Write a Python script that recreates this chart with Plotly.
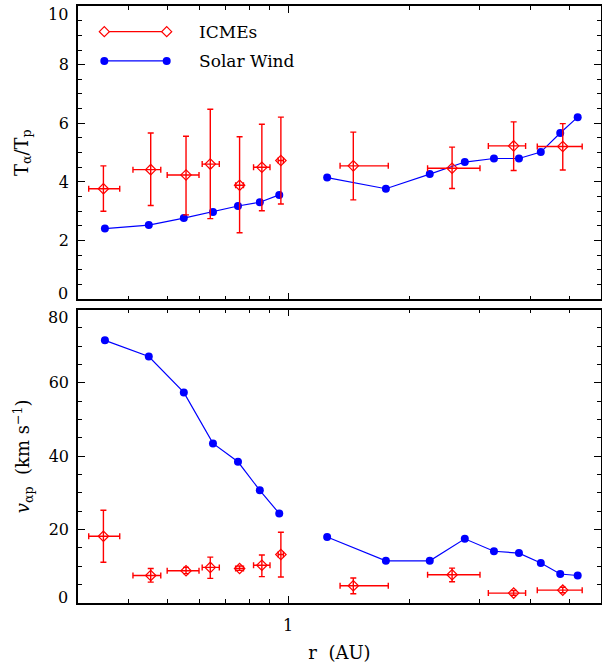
import plotly.graph_objects as go
import math

# ---------------- data ----------------
# Solar wind (bin centres, AU)
sw_r_in = [0.35, 0.45, 0.55, 0.65, 0.75, 0.85, 0.95]
sw_T_in = [2.41, 2.53, 2.77, 2.98, 3.18, 3.31, 3.56]
sw_v_in = [71.6, 67.2, 57.4, 43.5, 38.5, 30.7, 24.4]
sw_r_out = [1.25, 1.75, 2.25, 2.75, 3.25, 3.75, 4.25, 4.75, 5.25]
sw_T_out = [4.15, 3.77, 4.27, 4.68, 4.80, 4.80, 5.02, 5.67, 6.21]
sw_v_out = [18.0, 11.5, 11.5, 17.5, 14.1, 13.6, 10.9, 7.9, 7.5]

# ICMEs
icme_r = [0.347, 0.455, 0.557, 0.640, 0.757, 0.860, 0.959, 1.452, 2.557, 3.638, 4.82]
icme_r_lo = [0.319, 0.411, 0.500, 0.611, 0.740, 0.820, 0.944, 1.346, 2.222, 3.147, 4.165]
icme_r_hi = [0.381, 0.482, 0.600, 0.674, 0.774, 0.901, 0.973, 1.774, 3.000, 3.896, 5.387]
icme_T = [3.77, 4.42, 4.24, 4.61, 3.89, 4.50, 4.73, 4.55, 4.47, 5.23, 5.21]
icme_T_lo = [3.00, 3.20, 2.88, 2.75, 2.27, 3.02, 3.25, 3.39, 3.78, 4.39, 4.41]
icme_T_hi = [4.55, 5.67, 5.56, 6.48, 5.54, 5.97, 6.21, 5.70, 5.19, 6.05, 5.99]
icme_v = [18.2, 7.5, 8.8, 9.7, 9.4, 10.3, 13.2, 4.7, 7.7, 2.7, 3.5]
icme_v_lo = [11.1, 5.7, 8.0, 6.7, 8.9, 7.2, 7.1, 2.5, 5.8, 2.1, 2.8]
icme_v_hi = [25.3, 9.4, 9.7, 12.5, 10.1, 13.1, 19.3, 6.8, 9.5, 3.4, 4.3]

# axes / ticks
x_major = [1]
x_major_text = ["1"]
x_minor = [0.4, 0.5, 0.6, 0.7, 0.8, 0.9, 2, 3, 4, 5]
x_range = [0.3, 6.0]
T_ticks = [0, 2, 4, 6, 8, 10]
v_ticks = [0, 20, 40, 60, 80]

legend_names = ["ICMEs", "Solar Wind"]

RED = "#ff0000"
BLUE = "#0000ff"
FONT = "DejaVu Serif"

fig = go.Figure()


def icme_trace(y, ylo, yhi, xa, ya):
    return go.Scatter(
        x=icme_r, y=y, mode="markers",
        marker=dict(symbol="diamond-open", size=8, color=RED, line=dict(width=1.2, color=RED)),
        error_x=dict(type="data", symmetric=False,
                     array=[h - c for h, c in zip(icme_r_hi, icme_r)],
                     arrayminus=[c - l for l, c in zip(icme_r_lo, icme_r)],
                     color=RED, thickness=1.4, width=3),
        error_y=dict(type="data", symmetric=False,
                     array=[h - c for h, c in zip(yhi, y)],
                     arrayminus=[c - l for l, c in zip(ylo, y)],
                     color=RED, thickness=1.4, width=3),
        xaxis=xa, yaxis=ya, showlegend=False, cliponaxis=False,
    )


def sw_trace(x, y, xa, ya):
    return go.Scatter(
        x=x, y=y, mode="lines+markers",
        line=dict(color=BLUE, width=1.2),
        marker=dict(symbol="circle", size=8, color=BLUE),
        xaxis=xa, yaxis=ya, showlegend=False,
    )


# top panel
fig.add_trace(sw_trace(sw_r_in, sw_T_in, "x", "y"))
fig.add_trace(sw_trace(sw_r_out, sw_T_out, "x", "y"))
fig.add_trace(icme_trace(icme_T, icme_T_lo, icme_T_hi, "x", "y"))
# bottom panel
fig.add_trace(sw_trace(sw_r_in, sw_v_in, "x2", "y2"))
fig.add_trace(sw_trace(sw_r_out, sw_v_out, "x2", "y2"))
fig.add_trace(icme_trace(icme_v, icme_v_lo, icme_v_hi, "x2", "y2"))

W, H = 602, 666
ML, MR, MT, MB = 78, 1, 6, 63
top_dom = [0.5087, 1.0]
bot_dom = [0.0, 0.4916]
TICKFONT = dict(family=FONT, size=16, color="black")


def xaxis(labels, anchor):
    return dict(
        type="log", range=[math.log10(x_range[0]), math.log10(x_range[1])],
        domain=[0, 1], anchor=anchor, automargin=False,
        tickmode="array", tickvals=x_major,
        ticktext=x_major_text if labels else [""] * len(x_major),
        showticklabels=labels, ticklabelstandoff=7,
        ticks="inside", ticklen=7, tickwidth=1, tickcolor="black",
        minor=dict(tickmode="array", tickvals=x_minor, ticks="inside", ticklen=4,
                   tickcolor="black", tickwidth=1, showgrid=False),
        showline=True, linecolor="black", linewidth=1.5, mirror="ticks",
        showgrid=False, zeroline=False, tickfont=TICKFONT,
    )


def yaxis(dom, anchor, ticks, minor_step, title, standoff):
    # end labels are drawn separately (shifted inward, as in the original)
    text = [""] + [str(t) for t in ticks[1:-1]] + [""]
    return dict(
        domain=dom, anchor=anchor, range=[ticks[0], ticks[-1]], automargin=False,
        tickmode="array", tickvals=ticks, ticktext=text,
        ticks="inside", ticklen=7, tickcolor="black",
        minor=dict(dtick=minor_step, ticks="inside", ticklen=4, tickcolor="black", showgrid=False),
        showline=True, linecolor="black", linewidth=1.5, mirror="ticks",
        showgrid=False, zeroline=False, tickfont=TICKFONT, ticklabelstandoff=4,
        title=dict(text=title, font=dict(family=FONT, size=18), standoff=standoff),
    )


fig.update_layout(
    width=W, height=H,
    margin=dict(l=ML, r=MR, t=MT, b=MB),
    paper_bgcolor="white", plot_bgcolor="white",
    font=dict(family=FONT, color="black"),
    xaxis=xaxis(False, "y"),
    xaxis2=dict(xaxis(True, "y2"),
                title=dict(text="r  (AU)", font=dict(family=FONT, size=18), standoff=12)),
    yaxis=yaxis(top_dom, "x", T_ticks, 0.5, "T<sub>α</sub>/T<sub>p</sub>", 26),
    yaxis2=yaxis(bot_dom, "x2", v_ticks, 5, "<i>v</i><sub>αp</sub>  (km s<sup>−1</sup>)", 14),
)

# end tick labels, nudged inward so they don't collide between panels
for ya, ticks in (("y", T_ticks), ("y2", v_ticks)):
    for val, shift in ((ticks[0], 6), (ticks[-1], -8)):
        fig.add_annotation(x=0, xref="paper", y=val, yref=ya, text=str(val), showarrow=False,
                           xanchor="right", yanchor="middle", xshift=-8, yshift=shift,
                           font=TICKFONT)

# -------- custom legend (paper coordinates) --------
lx0, lx1, ltext = 0.0503, 0.1696, 0.227
ly = [0.957, 0.908]
shapes = []
shapes.append(dict(type="line", xref="paper", yref="paper", x0=lx0, x1=lx1, y0=ly[0], y1=ly[0],
                   line=dict(color=RED, width=1.2)))
for xa in (lx0, lx1):
    shapes.append(dict(type="path", xref="paper", yref="paper", xsizemode="pixel", ysizemode="pixel",
                       xanchor=xa, yanchor=ly[0], path="M -5 0 L 0 5 L 5 0 L 0 -5 Z",
                       fillcolor="white", line=dict(color=RED, width=1.2)))
shapes.append(dict(type="line", xref="paper", yref="paper", x0=lx0, x1=lx1, y0=ly[1], y1=ly[1],
                   line=dict(color=BLUE, width=1.2)))
for xa in (lx0, lx1):
    shapes.append(dict(type="circle", xref="paper", yref="paper", xsizemode="pixel", ysizemode="pixel",
                       xanchor=xa, yanchor=ly[1], x0=-4, x1=4, y0=-4, y1=4,
                       fillcolor=BLUE, line=dict(color=BLUE, width=0)))
fig.update_layout(shapes=shapes)

for name, yy in zip(legend_names, ly):
    fig.add_annotation(x=ltext, y=yy, xref="paper", yref="paper", text=name, showarrow=False,
                       xanchor="left", yanchor="middle", font=dict(family=FONT, size=17, color="black"))

fig.write_html("out.html", config={"displayModeBar": False},
               post_script="document.body.style.margin='0';document.body.style.padding='0';")
